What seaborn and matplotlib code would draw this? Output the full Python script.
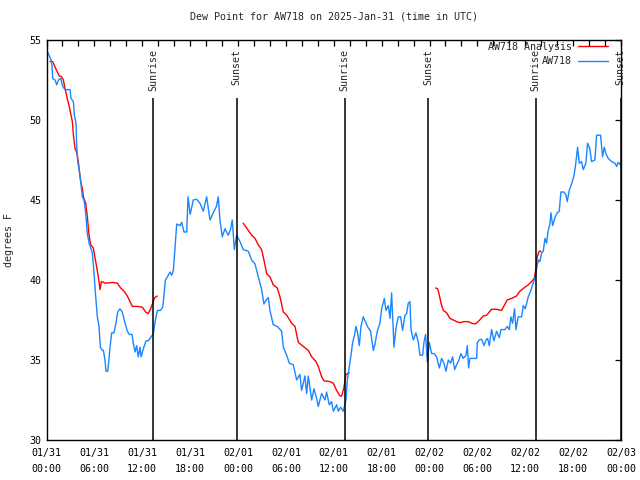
import pandas as pd
import matplotlib
matplotlib.use("Agg")
import matplotlib.pyplot as plt
import matplotlib.dates as mdates
from matplotlib.lines import Line2D
from matplotlib.ticker import MultipleLocator
import seaborn as sns

# hours since 2025-01-31 00:00 UTC, dew point in F
obs_hours = [0.19, 0.36, 0.65, 0.78, 1.07, 1.28, 1.49, 1.78, 2.03, 2.32, 2.95, 3.07, 3.37, 3.49,
             3.7, 3.78, 3.91, 4.12, 4.29, 4.49, 4.7, 4.91, 5.12, 5.33, 5.75, 5.96, 6.16, 6.37,
             6.58, 6.75, 7.0, 7.13, 7.33, 7.46, 7.67, 7.8, 7.96, 8.17, 8.46, 8.71, 8.92, 9.2,
             9.5, 9.84, 10.13, 10.38, 10.72, 10.89, 11.1, 11.3, 11.5, 11.72, 11.85, 12.14,
             12.47, 12.77, 13.1, 13.39, 13.64, 13.9, 14.3, 14.56, 14.73, 14.9, 15.27, 15.48,
             15.69, 15.9, 16.1, 16.32, 16.73, 16.94, 17.23, 17.57, 17.74, 18.0, 18.4, 18.8,
             19.23, 19.65, 20.07, 20.49, 20.9, 21.3, 21.53, 21.74, 22.03, 22.37, 22.78, 23.08,
             23.28, 23.54, 23.83, 24.25, 24.66, 25.29, 25.71, 26.13, 26.54, 26.96, 27.25, 27.59,
             27.8, 28.0, 28.42, 28.92, 29.47, 29.68, 30.1, 30.43, 30.93, 31.35, 31.76, 31.97,
             32.39, 32.6, 32.81, 33.23, 33.52, 33.85, 34.06, 34.48, 34.9, 35.1, 35.44, 35.73,
             35.94, 36.36, 36.57, 36.86, 37.2, 37.28, 37.53, 37.7, 37.95, 38.16, 38.37, 38.58,
             38.78, 38.99, 39.2, 39.41, 39.7, 40.04, 40.33, 40.62, 40.96, 41.17, 41.46, 41.79,
             42.0, 42.34, 42.54, 42.84, 43.05, 43.25, 43.55, 43.8, 44.09, 44.38, 44.63, 44.93,
             45.13, 45.34, 45.55, 45.68, 45.97, 46.3, 46.6, 46.8, 47.14, 47.3, 47.51, 47.72,
             47.97, 48.27, 48.56, 48.89, 49.23, 49.52, 49.81, 50.06, 50.36, 50.65, 50.9, 51.15,
             51.4, 51.69, 51.94, 52.23, 52.57, 52.74, 52.9, 53.07, 53.91, 53.99, 54.24, 54.53,
             54.83, 55.08, 55.28, 55.49, 55.78, 56.07, 56.41, 56.74, 56.95, 57.45, 57.75, 58.0,
             58.2, 58.41, 58.66, 58.83, 59.12, 59.54, 59.75, 60.0, 60.38, 60.67, 60.92, 61.13,
             61.34, 61.5, 61.67, 61.84, 62.05, 62.26, 62.47, 62.67, 62.88, 63.09, 63.22, 63.43,
             63.72, 64.01, 64.26, 64.47, 64.85, 65.1, 65.26, 65.51, 65.81, 66.1, 66.31, 66.56,
             66.77, 67.06, 67.27, 67.6, 67.81, 68.1, 68.31, 68.73, 68.94, 69.44, 69.69, 69.9,
             70.11, 70.4, 70.82, 71.24, 71.45, 71.65, 71.95]
obs_dewpt = [54.2, 54.0, 53.65, 52.6, 52.5, 52.2, 52.5, 52.6, 52.1, 51.9, 51.9, 51.35, 51.15, 50.3,
             49.8, 48.4, 47.4, 46.8, 46.15, 45.2, 45.0, 44.2, 42.9, 42.3, 41.7, 40.4, 39.0, 37.7,
             37.1, 35.8, 35.6, 35.6, 35.0, 34.3, 34.3, 34.9, 35.8, 36.7, 36.7, 37.3, 38.0, 38.2,
             38.0, 37.3, 36.8, 36.6, 36.6, 36.0, 35.5, 35.9, 35.2, 35.8, 35.2, 35.7,
             36.2, 36.2, 36.45, 36.65, 37.5, 38.1, 38.1, 38.3, 39.06, 40.0, 40.3, 40.5,
             40.3, 40.6, 42.0, 43.5, 43.4, 43.6, 43.0, 43.0, 45.2, 44.1, 45.0, 45.05,
             44.8, 44.3, 45.2, 43.75, 44.2, 44.6, 45.2, 43.75, 42.7, 43.2, 42.8, 43.2,
             43.75, 41.9, 42.8, 42.4, 41.9, 41.8, 41.25, 41.0, 40.2, 39.4, 38.5, 38.8,
             38.9, 38.1, 37.2, 37.1, 36.8, 35.8, 35.3, 34.8, 34.7, 33.75, 34.1, 33.1,
             34.0, 32.9, 34.0, 32.5, 33.2, 32.6, 32.1, 32.9, 32.5, 33.0, 32.2, 32.4,
             31.8, 32.2, 31.8, 32.05, 31.8, 32.0, 32.5, 33.75, 34.6, 35.3, 36.1, 36.5,
             37.1, 36.7, 35.9, 37.1, 37.7, 37.3, 37.0, 36.8, 35.6, 36.0, 36.8, 37.3,
             38.2, 38.85, 38.1, 38.4, 37.6, 39.2, 35.8, 37.0, 37.7, 37.7, 36.85, 37.8,
             37.9, 38.55, 38.65, 36.9, 36.25, 36.7, 36.1, 35.3, 35.3, 36.1, 36.6, 34.9,
             36.1, 35.4, 35.4, 35.2, 34.5, 35.1, 34.8, 34.3, 35.0, 34.8, 35.2, 34.4,
             34.7, 35.0, 35.4, 35.1, 35.3, 35.9, 34.5, 35.1, 35.1, 36.1, 36.25, 36.3,
             35.9, 36.25, 36.35, 35.9, 36.9, 36.2, 36.8, 36.4, 36.9, 36.9, 37.1, 36.9,
             37.7, 37.3, 38.2, 36.9, 37.7, 37.7, 38.4, 38.2, 38.95, 39.3, 39.7, 40.0,
             40.4, 40.95, 41.25, 41.15, 41.7, 41.8, 42.6, 42.3, 43.1, 43.5, 44.2, 43.4,
             43.9, 44.2, 44.3, 45.5, 45.5, 45.3, 44.9, 45.6, 46.0, 46.5, 47.2, 48.3,
             47.3, 47.4, 46.9, 47.3, 48.55, 48.2, 47.4, 47.5, 49.05, 49.05, 47.7, 48.3,
             47.9, 47.6, 47.4, 47.3, 47.1, 47.35, 47.2]

# analysis runs (three separate pieces)
ana1_hours = [0.44, 0.78, 1.07, 1.36, 1.61, 1.9, 2.11, 2.32, 2.53, 2.87, 3.03, 3.24, 3.37, 3.58,
              3.78, 3.99, 4.12, 4.29, 4.5, 4.62, 4.91, 5.12, 5.33, 5.54, 5.87, 6.04, 6.29, 6.46,
              6.58, 6.71, 6.87, 7.42, 8.25, 8.88, 9.3, 9.71, 10.13, 10.47, 10.76, 11.39, 12.01,
              12.43, 12.72, 12.97, 13.27, 13.56, 13.89]
ana1_dewpt = [53.65, 53.65, 53.3, 53.0, 52.75, 52.7, 52.5, 51.98, 51.5, 50.8, 50.4, 49.9, 49.06, 48.2,
              48.0, 47.4, 46.8, 46.15, 45.7, 45.2, 44.8, 43.95, 42.8, 42.2, 42.0, 41.5, 40.8, 40.3,
              39.9, 39.4, 39.9, 39.8, 39.85, 39.8, 39.5, 39.3, 39.0, 38.65, 38.35, 38.35, 38.3,
              38.0, 37.9, 38.1, 38.5, 38.9, 39.0]
ana2_hours = [24.66, 25.29, 25.71, 26.13, 26.54, 26.96, 27.25, 27.59, 28.0, 28.42, 28.92, 29.26,
              29.68, 30.1, 30.72, 31.14, 31.56, 32.18, 32.81, 33.23, 33.77, 34.06, 34.48, 34.77,
              35.52, 35.94, 36.36, 36.78, 36.99, 37.28, 37.53, 37.95]
ana2_dewpt = [43.55, 43.1, 42.8, 42.6, 42.2, 41.9, 41.25, 40.4, 40.2, 39.7, 39.5, 38.95,
              38.0, 37.8, 37.3, 37.1, 36.1, 35.85, 35.6, 35.2, 34.9, 34.6, 33.95, 33.7,
              33.65, 33.55, 33.1, 32.75, 32.75, 33.3, 34.1, 34.2]
ana3_hours = [48.77, 49.02, 49.23, 49.44, 49.73, 50.15, 50.56, 50.98, 51.4, 51.82, 52.32, 52.86,
              53.28, 53.7, 54.11, 54.74, 55.16, 55.78, 56.4, 57.03, 57.74, 58.29, 58.91, 59.33,
              59.83, 60.38, 60.79, 61.13, 61.34, 61.5, 61.75, 61.96]
ana3_dewpt = [39.5, 39.45, 39.06, 38.55, 38.1, 37.95, 37.6, 37.5, 37.4, 37.33, 37.4, 37.4,
              37.3, 37.25, 37.4, 37.75, 37.8, 38.17, 38.17, 38.1, 38.75, 38.85, 39.0, 39.3,
              39.5, 39.7, 39.9, 40.1, 40.7, 41.45, 41.8, 41.8]

sun_hours = [13.4, 23.83, 37.35, 47.85, 61.3, 71.96]
sun_labels = ["Sunrise", "Sunset", "Sunrise", "Sunset", "Sunrise", "Sunset"]

start = pd.Timestamp("2025-01-31 00:00")


def to_time(hours):
    return start + pd.to_timedelta(hours, unit="h")


sns.set_style("white")
plt.rcParams["font.family"] = ["DejaVu Sans Mono"]
FS = 7.2
RED = "#ff0000"
BLUE = "#1a86ff"

fig = plt.figure(figsize=(6.4, 4.8), dpi=100)
ax = fig.add_axes([46.5 / 640, 40 / 480, 574.5 / 640, 400 / 480])

for h, v in [(ana1_hours, ana1_dewpt), (ana2_hours, ana2_dewpt), (ana3_hours, ana3_dewpt)]:
    sns.lineplot(x=to_time(h), y=v, color=RED, lw=1.0, estimator=None, sort=False, ax=ax)
sns.lineplot(x=to_time(obs_hours), y=obs_dewpt, color=BLUE, lw=1.0, estimator=None, sort=False, ax=ax)

# sunrise / sunset markers
for h, lab in zip(sun_hours, sun_labels):
    t = to_time(h)
    ax.vlines(t, 30, 51.4, color="black", lw=1.1)
    ax.text(t, 54.45, lab, rotation=90, ha="center", va="top", fontsize=FS, clip_on=False)

ax.set_xlim(start, start + pd.Timedelta(hours=72))
ax.set_ylim(30, 55)
ax.xaxis.set_major_locator(mdates.HourLocator(byhour=[0, 6, 12, 18]))
ax.xaxis.set_minor_locator(mdates.HourLocator(byhour=range(0, 24, 2)))
ax.xaxis.set_major_formatter(mdates.DateFormatter("%m/%d\n%H:%M"))
ax.yaxis.set_major_locator(MultipleLocator(5))
ax.tick_params(which="both", direction="in", top=True, right=True, length=4.5, width=0.9,
               labelsize=FS, colors="black")
ax.tick_params(axis="x", pad=6)
for lbl in ax.get_xticklabels():
    lbl.set_linespacing(1.7)
for s in ax.spines.values():
    s.set_linewidth(1.0)
    s.set_color("black")

ax.set_xlabel("")
ax.set_ylabel("degrees F", fontsize=FS, labelpad=11)
ax.set_title("Dew Point for AW718 on 2025-Jan-31 (time in UTC)", fontsize=FS, pad=15)

handles = [Line2D([], [], color=RED, lw=1.0), Line2D([], [], color=BLUE, lw=1.0)]
ax.legend(handles, ["AW718 Analysis", "AW718"], loc="upper right", bbox_to_anchor=(0.986, 1.008),
          frameon=False, markerfirst=False, fontsize=FS, handlelength=3.0, handletextpad=0.6,
          labelspacing=0.45, borderaxespad=0.2, borderpad=0.3)

fig.savefig("out.png", dpi=100)
